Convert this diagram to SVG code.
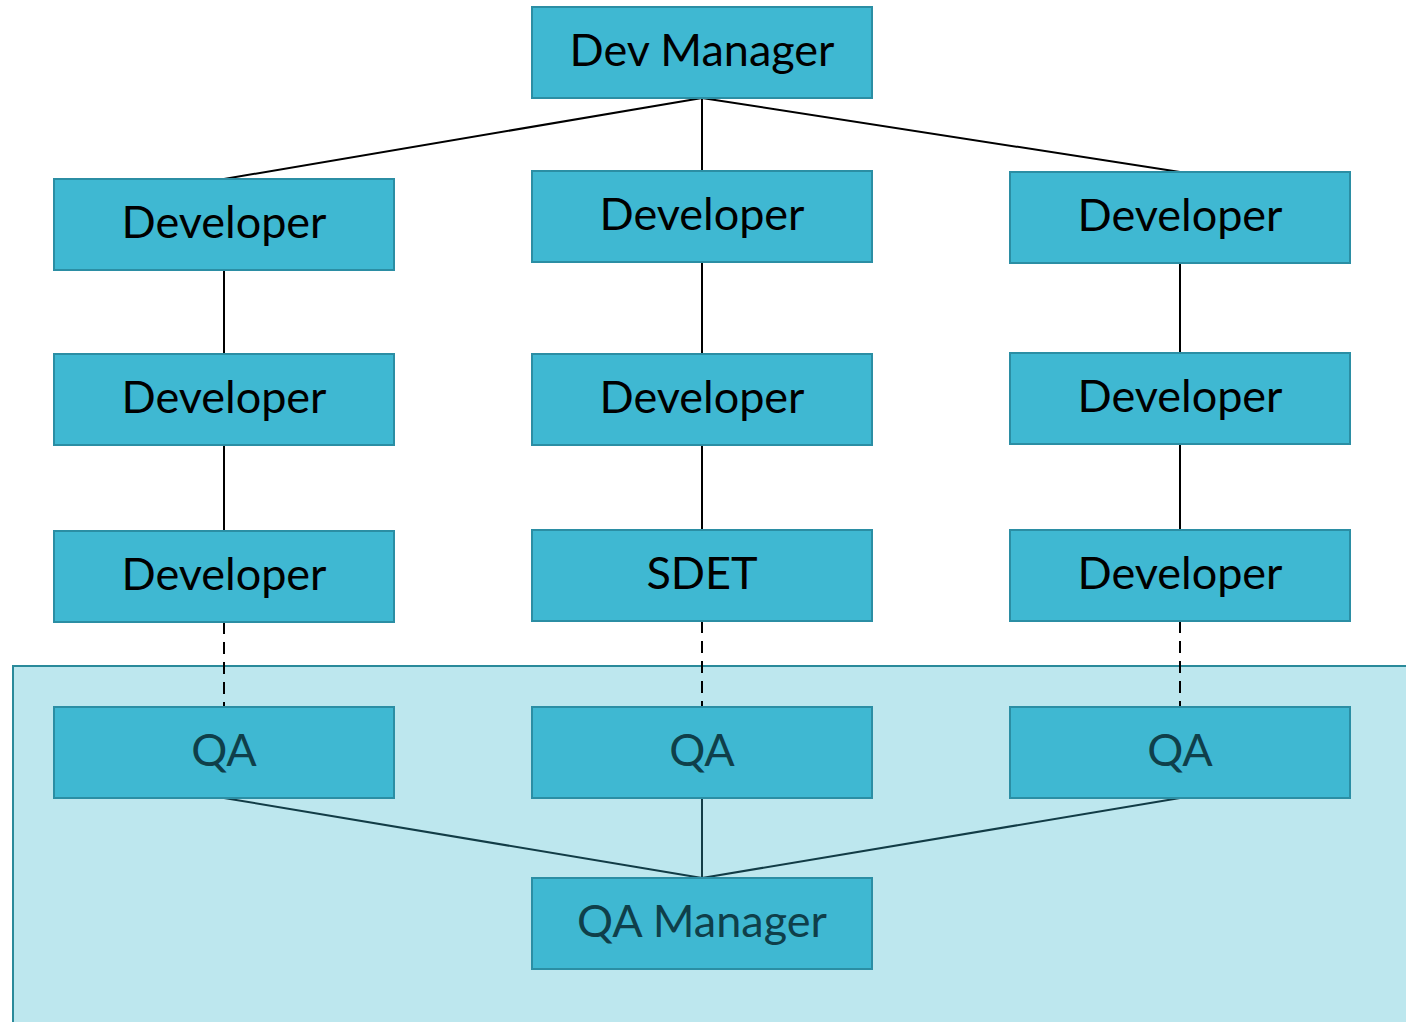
<svg xmlns="http://www.w3.org/2000/svg" width="1406" height="1022" viewBox="0 0 1406 1022">
<style>
.box{fill:#3fb8d2;stroke:#2b8ea4;stroke-width:2}
.t{font-family:Lato,"Open Sans",sans-serif;font-size:45px;text-anchor:middle;fill:#000}
.q{fill:#0f3f4a}
.ln{stroke:#000;stroke-width:2;fill:none}
.qln{stroke:#123c46;stroke-width:2;fill:none}
.dash{stroke:#000;stroke-width:2;stroke-dasharray:12,8;fill:none}
</style>
<rect width="1406" height="1022" fill="#fff"/>
<rect id="qa-panel" x="13" y="666" width="1400" height="370" fill="#bde7ee" stroke="#2a8a9a" stroke-width="2"/>
<g id="connectors">
<path class="ln" d="M702 98 L224 179 M702 98 L702 171 M702 98 L1180 172"/>
<path class="ln" d="M224 270 V354 M224 445 V531 M702 262 V354 M702 445 V530 M1180 263 V353 M1180 444 V530"/>
<path class="dash" d="M224 622 V707 M702 621 V707 M1180 621 V711"/>
<path class="qln" d="M224 798 L702 878 M702 798 V878 M1180 798 L702 878"/>
</g>
<g id="dev-manager"><rect class="box" x="532" y="7" width="340" height="91"/><text class="t" x="702" y="66">Dev Manager</text></g>
<g id="dev-l1"><rect class="box" x="54" y="179" width="340" height="91"/><text class="t" x="224" y="238">Developer</text></g>
<g id="dev-c1"><rect class="box" x="532" y="171" width="340" height="91"/><text class="t" x="702" y="230">Developer</text></g>
<g id="dev-r1"><rect class="box" x="1010" y="172" width="340" height="91"/><text class="t" x="1180" y="231">Developer</text></g>
<g id="dev-l2"><rect class="box" x="54" y="354" width="340" height="91"/><text class="t" x="224" y="413">Developer</text></g>
<g id="dev-c2"><rect class="box" x="532" y="354" width="340" height="91"/><text class="t" x="702" y="413">Developer</text></g>
<g id="dev-r2"><rect class="box" x="1010" y="353" width="340" height="91"/><text class="t" x="1180" y="412">Developer</text></g>
<g id="dev-l3"><rect class="box" x="54" y="531" width="340" height="91"/><text class="t" x="224" y="590">Developer</text></g>
<g id="sdet"><rect class="box" x="532" y="530" width="340" height="91"/><text class="t" x="702" y="589">SDET</text></g>
<g id="dev-r3"><rect class="box" x="1010" y="530" width="340" height="91"/><text class="t" x="1180" y="589">Developer</text></g>
<g id="qa-l"><rect class="box" x="54" y="707" width="340" height="91"/><text class="t q" x="224" y="766">QA</text></g>
<g id="qa-c"><rect class="box" x="532" y="707" width="340" height="91"/><text class="t q" x="702" y="766">QA</text></g>
<g id="qa-r"><rect class="box" x="1010" y="707" width="340" height="91"/><text class="t q" x="1180" y="766">QA</text></g>
<g id="qa-manager"><rect class="box" x="532" y="878" width="340" height="91"/><text class="t q" x="702" y="937">QA Manager</text></g>
</svg>
